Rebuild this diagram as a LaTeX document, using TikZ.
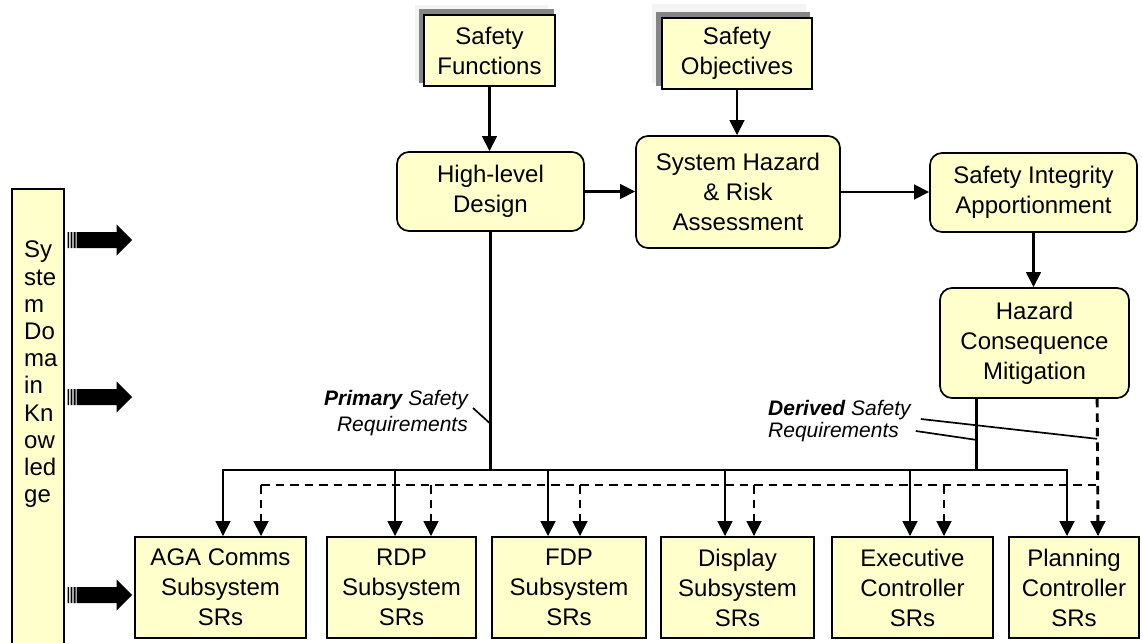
\documentclass[tikz,border=0pt]{standalone}
\usepackage{fontspec}
\setmainfont{Liberation Sans}
\usetikzlibrary{arrows.meta,calc,backgrounds}
\definecolor{boxfill}{HTML}{FFFFCC}
\definecolor{shadowgray}{HTML}{858585}
\definecolor{haze}{HTML}{F4F4F4}

\tikzset{
  pics/stripearrow/.style={code={
    \fill (0,-8) rectangle (1.4,8) (3,-8) rectangle (4.6,8) (6,-8) rectangle (7.8,8);
    \fill (8.8,-8) -- (49,-8) -- (49,-15.5) -- (64.5,0) -- (49,15.5) -- (49,8) -- (8.8,8) -- cycle;
  }}
}

\begin{document}
\begin{tikzpicture}[x=1pt,y=-1pt,
  box/.style={draw, line width=1.7pt, fill=boxfill, align=center, inner sep=0pt,
              font=\fontsize{24}{30}\selectfont},
  rbox/.style={box, rounded corners=12pt},
  sub/.style={box, minimum height=101pt},
  link/.style={line width=2.9pt},
  flow/.style={link, -{Triangle[length=15pt,width=14.5pt]}},
  dlink/.style={link, dash pattern=on 8.5pt off 6pt},
  dflow/.style={dlink, -{Triangle[length=15pt,width=14.5pt]}},
  leader/.style={line width=1.7pt},
  notep/.style={inner sep=0pt, font=\fontsize{21}{26}\selectfont\itshape},
  noted/.style={inner sep=0pt, font=\fontsize{21}{22}\selectfont\itshape},
]
\useasboundingbox (0,0) rectangle (1142,642);

% upper chain
\node[box, minimum width=131pt, minimum height=71pt] (sf) at (489.5,50.5) {Safety\\Functions};
\node[box, minimum width=150pt, minimum height=71pt] (so) at (737,53.5) {Safety\\Objectives};
\node[rbox, minimum width=187pt, minimum height=79pt] (hld) at (490.5,191.5) {High-level\\Design};
\node[rbox, minimum width=204pt, minimum height=112pt] (shra) at (738,192) {System Hazard\\\& Risk\\Assessment};
\node[rbox, minimum width=207pt, minimum height=79pt] (sia) at (1033.5,192.5) {Safety Integrity\\Apportionment};
\node[rbox, minimum width=189pt, minimum height=110pt] (hcm) at (1034.5,343) {Hazard\\Consequence\\Mitigation};

% subsystem safety requirements
\node[sub, minimum width=171pt] (aga)  at (220.5,587.5) {AGA Comms\\Subsystem\\SRs};
\node[sub, minimum width=149pt] (rdp)  at (401.5,587.5) {RDP\\Subsystem\\SRs};
\node[sub, minimum width=154pt] (fdp)  at (569,587.5)   {FDP\\Subsystem\\SRs};
\node[sub, minimum width=153pt] (disp) at (737.5,587.5) {Display\\Subsystem\\SRs};
\node[sub, minimum width=161pt] (exec) at (912.5,587.5) {Executive\\Controller\\SRs};
\node[sub, minimum width=130pt] (plan) at (1074,587.5)  {Planning\\Controller\\SRs};

% domain knowledge column
\node[box, anchor=north west, minimum width=52pt, minimum height=480pt] (sdk) at (11,188) {};
\node[anchor=north west, align=left, inner sep=0pt, font=\fontsize{24}{27.2}\selectfont]
  (sdktext) at (24,241) {Sy\\ste\\m\\Do\\ma\\in\\Kn\\ow\\led\\ge};

% drop shadows of the two source boxes
\begin{scope}[on background layer]
  \fill[haze] ($(sf.south west)+(-8,-6)$) rectangle ($(sf.north east)+(-8,-9)$);
  \fill[shadowgray] ($(sf.south west)+(-4,-4)$) rectangle ($(sf.north east)+(-2,-5)$);
  \fill[haze] ($(so.south west)+(-9,-7)$) rectangle ($(so.north east)+(-7,-13)$);
  \fill[shadowgray] ($(so.south west)+(-5,-4)$) rectangle ($(so.north east)+(-3,-5)$);
\end{scope}

% bus levels and drop points
\coordinate (bus) at (0,470);
\coordinate (dbus) at (0,485);
\path ($(aga.north)+(2.5,0)$) coordinate (aga-s)  ($(aga.north)+(40.5,0)$) coordinate (aga-d)
      ($(rdp.north)+(-6.5,0)$) coordinate (rdp-s) ($(rdp.north)+(29.5,0)$) coordinate (rdp-d)
      ($(fdp.north)+(-21,0)$) coordinate (fdp-s)  ($(fdp.north)+(11,0)$) coordinate (fdp-d)
      ($(disp.north)+(-12.5,0)$) coordinate (disp-s) ($(disp.north)+(16.5,0)$) coordinate (disp-d)
      ($(exec.north)+(-2.5,0)$) coordinate (exec-s) ($(exec.north)+(31.5,0)$) coordinate (exec-d)
      ($(plan.north)+(-7,0)$) coordinate (plan-s) ($(plan.north)+(24,0)$) coordinate (plan-d)
      ($(hcm.south west)+(37,0)$) coordinate (hcm-s) ($(hcm.south west)+(158,0)$) coordinate (hcm-d);

% process flow
\draw[flow] (sf.south) -- (sf.south |- hld.north);
\draw[flow] (so.south) -- (so.south |- shra.north);
\draw[flow] (hld.east) -- (hld.east -| shra.west);
\draw[flow] (shra.east) -- (shra.east -| sia.west);
\draw[flow] (sia.south) -- (sia.south |- hcm.north);

% primary requirements (solid)
\draw[link] (hld.south) -- (hld.south |- bus);
\draw[link] (hcm-s) -- (hcm-s |- bus);
\draw[link, line cap=rect] (aga-s |- bus) -- (plan-s |- bus);
\foreach \n in {aga,rdp,fdp,disp,exec,plan} \draw[flow] (\n-s |- bus) -- (\n-s);

% derived requirements (dashed)
\draw[dlink] (aga-d |- dbus) -- (plan-d |- dbus);
\foreach \n in {aga,rdp,fdp,disp,exec} \draw[dflow] (\n-d |- dbus) -- (\n-d);
\draw[dflow] (hcm-d) -- (plan-d);

% labels with leader lines
\node[notep, anchor=north east, align=right] (prim) at (468,390) {\textbf{Primary} Safety\\Requirements};
\draw[leader] ($(prim.north east)+(5,18)$) -- ($(hld.south)+(0,192)$);
\node[noted, anchor=north west, align=left] (der) at (768,400) {\textbf{Derived} Safety\\Requirements};
\draw[leader] ($(der.north east)+(10,19)$) -- ($(hcm-d)+(0,40)$);
\draw[leader] ($(der.north east)+(5,31)$) -- ($(hcm-s)+(0,41)$);

% knowledge feed arrows
\pic at ($(sdk.north east)+(3,52)$) {stripearrow};
\pic at ($(sdk.north east)+(3,209)$) {stripearrow};
\pic at ($(sdk.north east)+(3,407)$) {stripearrow};
\end{tikzpicture}
\end{document}
